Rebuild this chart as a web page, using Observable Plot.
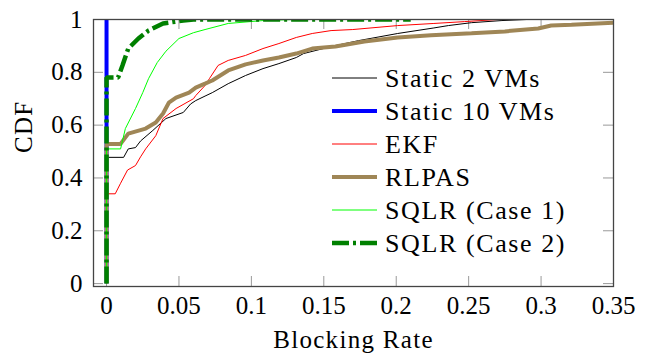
<!DOCTYPE html>
<html><head><meta charset="utf-8">
<script src="https://cdn.jsdelivr.net/npm/d3@7"></script>
<script src="https://cdn.jsdelivr.net/npm/@observablehq/plot@0.6"></script>
<style>
body{margin:0;background:#fff}
#chart{position:relative;width:647px;height:354px}
</style></head><body><div id="chart"></div>
<script>
// ---- data ----
const seriesNames = ["Static 2 VMs","Static 10 VMs","EKF","RLPAS","SQLR (Case 1)","SQLR (Case 2)"];

const static2 = [[0,0],[0,0.478],[0.0118,0.478],[0.015,0.51],[0.02,0.515],[0.0235,0.54],[0.032,0.58],[0.041,0.625],[0.053,0.648],[0.058,0.68],[0.0616,0.693],[0.068,0.71],[0.073,0.723],[0.084,0.757],[0.096,0.788],[0.108,0.814],[0.119,0.833],[0.131,0.856],[0.136,0.871],[0.157,0.9],[0.174,0.92],[0.201,0.947],[0.226,0.968],[0.236,0.977],[0.252,0.988],[0.273,0.996],[0.29,1]];
const static10 = [[0,0],[0,1]];
const ekf = [[0,0],[0,0.34],[0.006,0.34],[0.0097,0.38],[0.0145,0.43],[0.02,0.447],[0.0235,0.48],[0.027,0.51],[0.034,0.56],[0.039,0.625],[0.048,0.663],[0.06,0.70],[0.0616,0.712],[0.068,0.75],[0.071,0.776],[0.077,0.826],[0.084,0.845],[0.096,0.864],[0.108,0.89],[0.119,0.909],[0.131,0.932],[0.142,0.947],[0.155,0.958],[0.17,0.962],[0.201,0.977],[0.226,0.985],[0.247,0.992],[0.27,1]];
const rlpas = [[0,0],[0,0.529],[0.0097,0.529],[0.015,0.568],[0.027,0.587],[0.034,0.61],[0.039,0.644],[0.043,0.685],[0.048,0.704],[0.057,0.723],[0.0616,0.742],[0.068,0.757],[0.073,0.769],[0.084,0.807],[0.096,0.83],[0.108,0.845],[0.119,0.856],[0.131,0.871],[0.142,0.89],[0.158,0.898],[0.178,0.917],[0.201,0.932],[0.224,0.94],[0.252,0.948],[0.275,0.955],[0.298,0.966],[0.307,0.977],[0.321,0.98],[0.35,0.988]];
const sqlr1 = [[0,0],[0,0.51],[0.0097,0.51],[0.013,0.587],[0.02,0.663],[0.025,0.723],[0.029,0.776],[0.035,0.837],[0.041,0.88],[0.05,0.928],[0.06,0.95],[0.068,0.962],[0.084,0.985],[0.108,0.996],[0.13,1],[0.35,1]];
const sqlr2 = [[0,0],[0,0.78],[0.008,0.78],[0.011,0.826],[0.015,0.89],[0.022,0.928],[0.029,0.958],[0.039,0.985],[0.053,0.996],[0.06,1],[0.21,1]];

const xTicks = [0,0.05,0.1,0.15,0.2,0.25,0.3,0.35];
const xTickLabels = ["0","0.05","0.1","0.15","0.2","0.25","0.3","0.35"];
const yTicks = [0,0.2,0.4,0.6,0.8,1];
const yTickLabels = ["0","0.2","0.4","0.6","0.8","1"];
const xLabel = "Blocking Rate";
const yLabel = "CDF";

// ---- styles ----
const styles = [
  {stroke:"#000000", strokeWidth:1},
  {stroke:"#0000ff", strokeWidth:4},
  {stroke:"#ff0000", strokeWidth:1},
  {stroke:"#9f8656", strokeWidth:4},
  {stroke:"#00ff00", strokeWidth:1},
  {stroke:"#008000", strokeWidth:4.5, strokeDasharray:"17,4,3,4"}
];
const seriesData = [static2, static10, ekf, rlpas, sqlr1, sqlr2];

const W=647, H=354, mL=93, mR=34, mT=19, mB=68;
const innerH = H - mT - mB, innerW = W - mL - mR;
const tickLen = 10;
const font = "Liberation Serif, Times New Roman, serif";

const lineMarks = seriesData.map((pts, i) =>
  Plot.line(pts, {x: d => d[0], y: d => d[1], clip: true, strokeLinejoin: "miter", strokeLinecap: "butt", ...styles[i]})
);

const plot = Plot.plot({
  width: W, height: H,
  marginLeft: mL, marginRight: mR, marginTop: mT, marginBottom: mB,
  style: {fontFamily: font, fontSize: "25px", color: "#000", background: "#fff"},
  x: {domain: [-0.009, 0.35]},
  y: {domain: [-0.011, 1]},
  marks: [
    Plot.axisX({ticks: xTicks, tickFormat: d => xTickLabels[xTicks.indexOf(d)], tickSize: 0, tickPadding: 10, label: null, fontSize: 25}),
    Plot.axisY({ticks: yTicks, tickFormat: d => yTickLabels[yTicks.indexOf(d)], tickSize: 0, tickPadding: 11, label: null, fontSize: 25}),
    Plot.tickX(xTicks, {x: d => d, stroke: "#999", insetTop: innerH - tickLen}),
    Plot.tickX(xTicks, {x: d => d, stroke: "#999", insetBottom: innerH - tickLen}),
    Plot.tickY(yTicks, {y: d => d, stroke: "#999", insetRight: innerW - tickLen}),
    Plot.tickY(yTicks, {y: d => d, stroke: "#999", insetLeft: innerW - tickLen}),
    ...lineMarks,
    Plot.frame({stroke: "#444", strokeWidth: 1.3}),
    Plot.text([xLabel], {frameAnchor: "bottom", text: d => d, dy: 53, lineAnchor: "middle", fontSize: 25}),
    Plot.text([yLabel], {frameAnchor: "left", text: d => d, dx: -70, rotate: -90, lineAnchor: "middle", fontSize: 25})
  ]
});

document.getElementById("chart").appendChild(plot);

// letter spacing for axis labels (Computer Modern is wider than Times)
d3.select(plot).selectAll("g[aria-label='text'] text").style("letter-spacing", "1.3px");

// ---- legend (inside the plot area, no box) ----
const svg = d3.select(plot);
const lg = svg.append("g").attr("font-family", font).attr("font-size", 26).attr("text-anchor", "start");
const lx0 = 332, lx1 = 377, ltx = 385, ly0 = 78, lstep = 33;
seriesNames.forEach((name, i) => {
  const y = ly0 + i * lstep;
  const s = styles[i];
  lg.append("line").attr("x1", lx0).attr("x2", lx1).attr("y1", y).attr("y2", y)
    .attr("stroke", s.stroke).attr("stroke-width", s.strokeWidth)
    .attr("stroke-dasharray", s.strokeDasharray || null);
  lg.append("text").attr("x", ltx).attr("y", y + 9).attr("fill", "#000")
    .attr("text-anchor", "start")
    .style("letter-spacing", "1.6px").text(name);
});
</script></body></html>
